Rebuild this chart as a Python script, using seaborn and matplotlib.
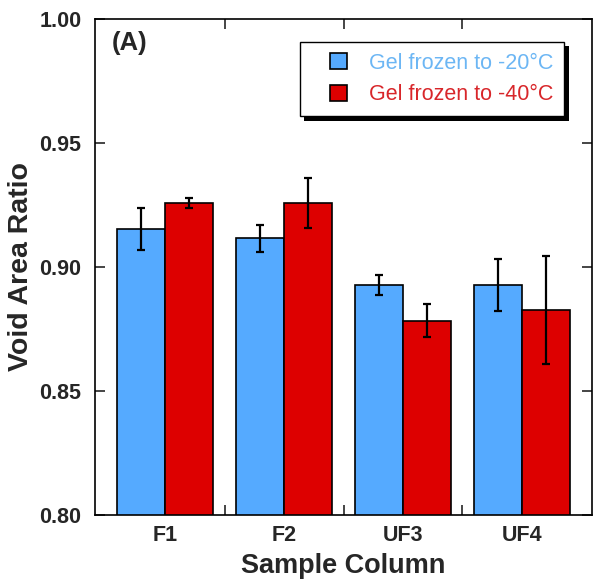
import matplotlib
matplotlib.use("Agg")
import matplotlib.pyplot as plt
import seaborn as sns
import pandas as pd
from matplotlib.ticker import MultipleLocator, FixedLocator
from matplotlib.patches import Rectangle
from matplotlib.legend_handler import HandlerPatch

samples = ["F1", "F2", "UF3", "UF4"]
groups = ["Gel frozen to -20°C", "Gel frozen to -40°C"]
ratio_20 = [0.9153, 0.9116, 0.8926, 0.8926]
ratio_40 = [0.9258, 0.9258, 0.8783, 0.8827]
err_20 = [0.0084, 0.0055, 0.0040, 0.0105]
err_40 = [0.0021, 0.0100, 0.0066, 0.0217]

bar_colors = ["#55aaff", "#dd0000"]
text_colors = ["#6cb6f4", "#d8262a"]

df = pd.DataFrame({
    "sample": samples * 2,
    "group": [groups[0]] * 4 + [groups[1]] * 4,
    "ratio": ratio_20 + ratio_40,
})

sns.set_style("white")
plt.rcParams["font.family"] = ["Liberation Sans", "DejaVu Sans"]

fig, ax = plt.subplots(figsize=(6.0, 5.87), dpi=100)
fig.subplots_adjust(left=0.158, right=0.987, bottom=0.1227, top=0.9676)

sns.barplot(data=df, x="sample", y="ratio", hue="group", palette=bar_colors,
            saturation=1, edgecolor="black", linewidth=1.2, errorbar=None,
            width=0.8, ax=ax)

# error bars at the bar centres
for cont, errs in zip(ax.containers, [err_20, err_40]):
    xs = [p.get_x() + p.get_width() / 2 for p in cont.patches]
    ys = [p.get_height() for p in cont.patches]
    ax.errorbar(xs, ys, yerr=errs, fmt="none", ecolor="black",
                elinewidth=1.6, capsize=3, capthick=1.6, zorder=5)

ax.set_ylim(0.80, 1.00)
ax.yaxis.set_major_locator(MultipleLocator(0.05))
ax.yaxis.set_major_formatter(plt.FormatStrFormatter("%.2f"))
ax.xaxis.set_minor_locator(FixedLocator([0.5, 1.5, 2.5]))
ax.tick_params(axis="x", which="major", length=0, pad=7)
ax.tick_params(axis="x", which="minor", direction="in", length=7,
               width=1.2, top=True, bottom=True)
ax.tick_params(axis="y", which="major", direction="in", length=7,
               width=1.2, left=True, right=True, pad=9.5)
for lab in ax.get_xticklabels() + ax.get_yticklabels():
    lab.set_fontweight("bold")
    lab.set_fontsize(15.5)
for s in ax.spines.values():
    s.set_linewidth(1.2)
    s.set_color("black")

ax.set_xlabel("Sample Column", fontsize=19.5, fontweight="bold", labelpad=5)
ax.set_ylabel("Void Area Ratio", fontsize=20.5, fontweight="bold", labelpad=4)

ax.text(0.034, 0.975, "(A)", transform=ax.transAxes, fontsize=18.5,
        fontweight="bold", va="top", ha="left")


# square legend key sitting at the right end of the handle box
def square_key(legend, orig_handle, xdescent, ydescent, width, height, fontsize):
    side = height
    return Rectangle((width - xdescent - side, -ydescent), side, side)


leg = ax.legend(loc="upper right", bbox_to_anchor=(0.944, 0.954),
                borderaxespad=0, fontsize=15.5, frameon=True, fancybox=False,
                edgecolor="black", handlelength=1.67, handleheight=0.8,
                handletextpad=1.05, borderpad=0.5, labelspacing=0.5,
                framealpha=1,
                handler_map={Rectangle: HandlerPatch(patch_func=square_key)})
leg.get_frame().set_linewidth(1.0)
leg.set_zorder(10)
for t, c in zip(leg.get_texts(), text_colors):
    t.set_color(c)

# solid black drop shadow behind the legend box
fig.canvas.draw()
bb = leg.get_window_extent().transformed(fig.transFigure.inverted())
dx, dy = 4.5 / 600, 4.5 / 587
shadow = Rectangle((bb.x0 + dx, bb.y0 - dy), bb.width, bb.height,
                   transform=fig.transFigure, facecolor="black",
                   edgecolor="none", zorder=9)
ax.add_artist(shadow)
shadow.set_transform(fig.transFigure)

fig.savefig("out.png", dpi=100)
